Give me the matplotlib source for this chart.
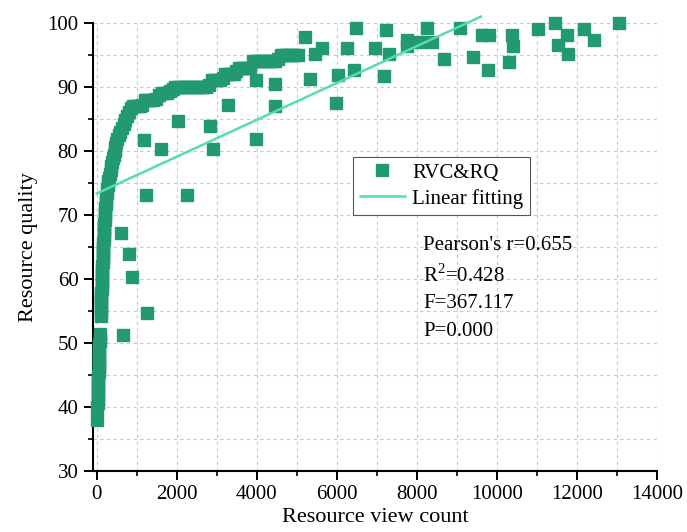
import matplotlib.pyplot as plt
from matplotlib.ticker import MultipleLocator

plt.rcParams['font.family'] = ['Liberation Serif', 'DejaVu Serif']
plt.rcParams['mathtext.fontset'] = 'custom'
plt.rcParams['mathtext.rm'] = 'Liberation Serif'

# dense main curve (resource view count, resource quality)
curve_x = [20, 25, 28, 30, 33, 36, 40, 42, 45, 48, 50, 53, 56, 60, 62, 65, 70, 74, 80, 88,
           100, 103, 106, 109, 112, 115, 118, 121, 124, 127, 130, 134, 138, 142, 146, 150,
           155, 160, 165, 170, 175, 180, 185, 190, 195, 200, 205, 210, 215, 222, 230, 240,
           252, 265, 280, 295, 312, 330, 350, 370, 390, 410, 430, 450, 465, 490, 520, 550,
           590, 635, 680, 720, 760, 800, 850,
           900, 960, 1020, 1080, 1140,
           1200, 1270, 1340, 1410, 1480,
           1550, 1620, 1690, 1760, 1830, 1900,
           1960, 2030, 2100, 2170, 2240, 2310, 2380, 2450, 2520, 2590, 2660, 2730, 2800,
           2870, 2940, 3010, 3080, 3150,
           3210, 3280, 3350, 3420, 3490,
           3550, 3620, 3690, 3760, 3830,
           3900, 3970, 4040, 4110, 4180, 4250, 4320, 4390, 4460, 4530,
           4600, 4670, 4740, 4810, 4880, 4950, 5020]
curve_y = [40.0, 40.6, 41.2, 41.8, 42.4, 43.0, 43.6, 44.2, 44.8, 45.4, 46.0, 46.6, 47.2, 47.8,
           48.4, 49.0, 49.6, 50.2, 50.8, 51.4,
           54.2, 54.8, 55.4, 56.0, 56.6, 57.2, 57.8, 58.4, 59.0, 59.6, 60.2, 60.8, 61.4, 62.0,
           62.6, 63.2, 63.8, 64.4, 65.0, 65.6, 66.2, 66.8, 67.4, 68.0, 68.6, 69.2, 69.8, 70.4,
           71.0, 71.6, 72.2, 72.8, 73.4, 74.0, 74.6, 75.2, 75.8, 76.4, 77.0, 77.6, 78.2, 78.8,
           79.4, 80.0, 80.6, 81.2, 81.8, 82.4, 83.0, 83.6, 84.2, 84.8, 85.4, 86.0, 86.6,
           87, 87, 87, 87, 87.2,
           88, 88, 88, 88, 88.1,
           88.7, 89, 89, 89, 89.3, 89.6,
           90, 90, 90, 90, 90, 90, 90, 90, 90, 90, 90, 90, 90.3,
           91, 91, 91, 91, 91.3,
           92, 92, 92, 92, 92.4,
           93, 93, 93, 93, 93,
           94, 94, 94, 94, 94, 94, 94, 94, 94, 94.3,
           95, 95, 95, 95, 95, 95, 95]

# scattered points
scatter_x = [20, 650, 608, 815, 875, 1250, 1183, 1610, 2025, 2830, 2900, 1225, 2250,
             3270, 3970, 4460, 4460, 3990, 5210, 5620, 5450, 5320, 6020, 5980, 6250,
             6470, 7225, 8250, 9070, 9620, 9790, 6960, 7315, 7755, 7755, 8070, 8375,
             6440, 7185, 8680, 9410, 9770, 10380, 10390, 11030, 11460, 11760, 11525,
             11785, 12165, 12415, 13040, 10290]
scatter_y = [38.0, 51.2, 67.1, 63.9, 60.3, 54.6, 81.7, 80.2, 84.7, 83.9, 80.2, 73.1, 73.1,
             87.1, 91.0, 90.4, 87.0, 81.8, 97.7, 96.1, 95.1, 91.2, 91.9, 87.4, 96.0,
             99.1, 98.8, 99.1, 99.2, 98.1, 98.1, 96.0, 95.1, 97.3, 96.3, 97.0, 97.0,
             92.6, 91.7, 94.3, 94.7, 92.6, 98.1, 96.4, 99.0, 100.0, 98.1, 96.5,
             95.1, 99.0, 97.3, 100.0, 93.9]

# linear fitting
fit_intercept = 73.3
fit_slope = 0.00288
fit_x = [0, 9600]

stats_lines = ["Pearson's r=0.655", "R$^2$=0.428", "F=367.117", "P=0.000"]

point_color = '#22996f'
line_color = '#55dcb4'

fig = plt.figure(figsize=(6.87, 5.32), dpi=100)
ax = fig.add_axes([93 / 687, 61.3 / 532, 564 / 687, 448 / 532])

ax.plot(curve_x + scatter_x, curve_y + scatter_y, 's', color=point_color, ms=8,
        mec=point_color, linestyle='none', clip_on=False, zorder=3, label='RVC&RQ')
fit_y = [fit_intercept + fit_slope * x for x in fit_x]
ax.plot(fit_x, fit_y, color=line_color, lw=1.8, clip_on=False, zorder=4,
        label='Linear fitting')

ax.set_xlim(-92, 14000)
ax.set_ylim(30, 100)
ax.xaxis.set_major_locator(MultipleLocator(2000))
ax.xaxis.set_minor_locator(MultipleLocator(1000))
ax.yaxis.set_major_locator(MultipleLocator(10))
ax.yaxis.set_minor_locator(MultipleLocator(5))

ax.grid(True, which='both', linestyle=(0, (3, 3)), color='#c8c8c8', lw=0.8)
ax.set_axisbelow(True)

for s in ['top', 'right']:
    ax.spines[s].set_visible(False)
for s in ['left', 'bottom']:
    ax.spines[s].set_linewidth(1.5)

ax.tick_params(which='major', direction='out', length=6.5, width=1.4, labelsize=15, pad=4)
ax.tick_params(which='minor', direction='out', length=3.6, width=1.2)

ax.set_xlabel('Resource view count', fontsize=16, labelpad=3)
ax.set_ylabel('Resource quality', fontsize=16, labelpad=7)

leg = ax.legend(loc='upper left', bbox_to_anchor=(0.4615, 0.7009), fontsize=15,
                frameon=True, fancybox=False, edgecolor='#555555', framealpha=1,
                handlelength=2.2, borderpad=0.3, labelspacing=0.3, handletextpad=0.33,
                borderaxespad=0)
leg.get_frame().set_linewidth(0.8)

stats_y = [0.5016, 0.4368, 0.3737, 0.3103]
for txt, yy in zip(stats_lines, stats_y):
    ax.text(0.5857, yy, txt, transform=ax.transAxes, fontsize=15, va='center', ha='left')

plt.savefig('out.png', dpi=100)
plt.close()
